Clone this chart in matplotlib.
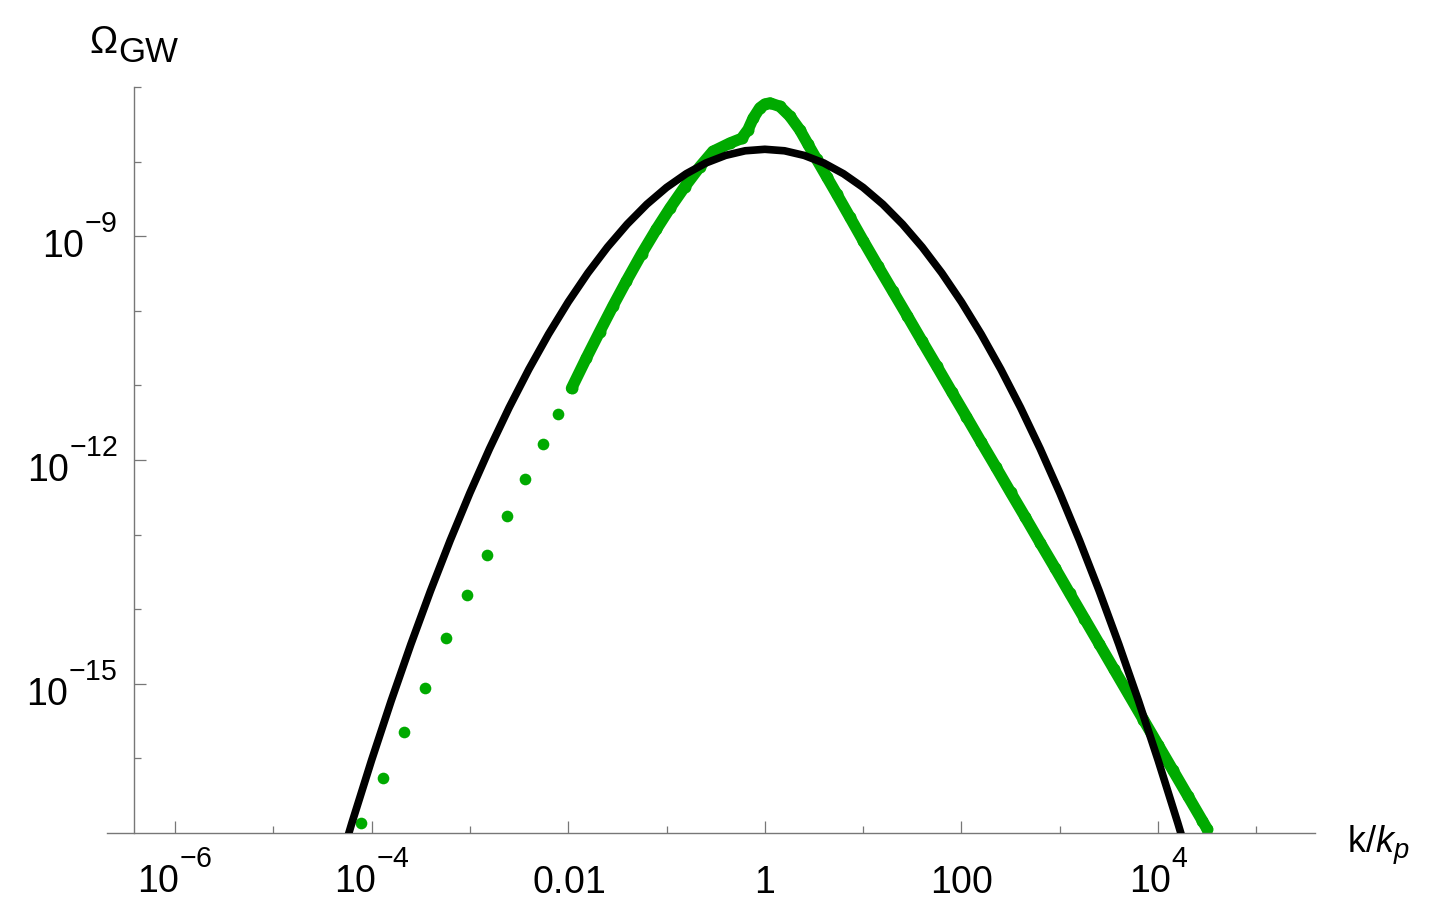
import numpy as np
import matplotlib
matplotlib.use("Agg")
import matplotlib.pyplot as plt
from matplotlib.ticker import NullFormatter
import matplotlib._mathtext as _mt

# superscripts a bit larger and higher, like the reference
_mt.SHRINK_FACTOR = 0.76
_mt.FontConstantsBase.sup1 = 1.2

plt.rcParams['font.family'] = ['Liberation Sans', 'DejaVu Sans']
plt.rcParams['mathtext.fontset'] = 'custom'
plt.rcParams['mathtext.rm'] = 'Liberation Sans'
plt.rcParams['mathtext.it'] = 'Liberation Sans:italic'
plt.rcParams['mathtext.bf'] = 'Liberation Sans:bold'

# ---------------- data (log10 values) ----------------
# black curve: log10(k/kp), log10(Omega_GW)
black_logk = [-4.4, -4.2, -4.0, -3.8, -3.6, -3.4, -3.2, -3.0, -2.8, -2.6, -2.4, -2.2,
              -2.0, -1.8, -1.6, -1.4, -1.2, -1.0, -0.8, -0.6, -0.4, -0.2, 0.0,
              0.2, 0.4, 0.6, 0.8, 1.0, 1.2, 1.4, 1.6, 1.8, 2.0, 2.2, 2.4, 2.6,
              2.8, 3.0, 3.2, 3.4, 3.6, 3.8, 4.0, 4.2, 4.4]
black_logO = [-17.747, -16.867, -16.027, -15.228, -14.471, -13.754, -13.078, -12.443,
              -11.849, -11.296, -10.784, -10.313, -9.883, -9.494, -9.146, -8.839,
              -8.572, -8.347, -8.163, -8.019, -7.917, -7.855, -7.835,
              -7.855, -7.917, -8.019, -8.163, -8.347, -8.572, -8.839, -9.146,
              -9.494, -9.883, -10.313, -10.784, -11.296, -11.849, -12.443,
              -13.078, -13.754, -14.471, -15.228, -16.027, -16.867, -17.747]

# green sparse points (low k)
green_sparse_logk = [-4.11, -3.886, -3.665, -3.452, -3.238, -3.025, -2.821, -2.625,
                     -2.434, -2.261, -2.099]
green_sparse_logO = [-16.86, -16.26, -15.65, -15.06, -14.38, -13.815, -13.27, -12.75,
                     -12.25, -11.79, -11.39]

# green dense points
green_dense_logk = [-1.966, -1.814, -1.679, -1.543, -1.407, -1.254, -1.102, -0.966,
                    -0.814, -0.661, -0.529, -0.356, -0.237, -0.170, -0.119, -0.051,
                    0.0, 0.051, 0.153, 0.254, 0.356, 0.440, 0.526, 0.628, 0.729, 0.865,
                    1.0, 1.15, 1.3, 1.45, 1.6, 1.75, 1.9, 2.05, 2.2, 2.35, 2.5, 2.65,
                    2.8, 2.95, 3.1, 3.25, 3.4, 3.55, 3.7, 3.85, 4.0, 4.15, 4.3, 4.45, 4.5]
green_dense_logO = [-11.04, -10.63, -10.279, -9.932, -9.599, -9.239, -8.905, -8.626,
                    -8.337, -8.069, -7.864, -7.753, -7.69, -7.57, -7.42, -7.28,
                    -7.23, -7.215, -7.26, -7.39, -7.575, -7.77, -7.968, -8.20, -8.43, -8.745,
                    -9.06, -9.40, -9.735, -10.07, -10.41, -10.745, -11.085, -11.42, -11.76,
                    -12.095, -12.435, -12.77, -13.11, -13.445, -13.786, -14.125, -14.464,
                    -14.803, -15.142, -15.481, -15.82, -16.159, -16.498, -16.837, -16.95]

x_major = [1e-6, 1e-4, 1e-2, 1e0, 1e2, 1e4]
x_major_labels = [r'$\mathregular{10^{-6}}$', r'$\mathregular{10^{-4}}$', r'$\mathregular{0.01}$',
                  r'$\mathregular{1}$', r'$\mathregular{100}$', r'$\mathregular{10^{4}}$']
x_minor = [1e-5, 1e-3, 1e-1, 1e1, 1e3, 1e5]
y_major = [1e-15, 1e-12, 1e-9]
y_major_labels = [r'$\mathregular{10^{-15}}$', r'$\mathregular{10^{-12}}$', r'$\mathregular{10^{-9}}$']
y_minor = [1e-16, 1e-14, 1e-13, 1e-11, 1e-10, 1e-8, 1e-7]

# ---------------- figure ----------------
W, H = 1441, 920
fig = plt.figure(figsize=(W / 100, H / 100), dpi=100)
ax = fig.add_axes([107 / W, 1 - 834 / H, (1315 - 107) / W, (834 - 88) / H])
ax.set_xscale('log')
ax.set_yscale('log')
ax.set_xlim(10 ** -6.69, 10 ** 5.595)
ax.set_ylim(1e-17, 1e-7)

green = '#00aa00'
ax.plot(np.power(10.0, green_sparse_logk), np.power(10.0, green_sparse_logO),
        linestyle='none', marker='o', ms=8.4, mec='none', mfc=green, zorder=2)
ax.plot(np.power(10.0, green_dense_logk), np.power(10.0, green_dense_logO),
        color=green, lw=8.3, solid_capstyle='round', solid_joinstyle='round',
        marker='o', ms=8.6, mec='none', mfc=green, zorder=2)
ax.plot(np.power(10.0, black_logk), np.power(10.0, black_logO),
        color='black', lw=5.5, solid_joinstyle='round', zorder=3)

axis_color = '#777777'
for s in ['top', 'right']:
    ax.spines[s].set_visible(False)
ax.spines['left'].set_position(('data', 10 ** -6.42))
ax.spines['left'].set_color(axis_color)
ax.spines['bottom'].set_color(axis_color)
ax.spines['left'].set_linewidth(1.0)
ax.spines['bottom'].set_linewidth(1.0)

ax.set_xticks(x_major, labels=x_major_labels)
ax.set_xticks(x_minor, minor=True)
ax.set_yticks(y_major, labels=y_major_labels)
ax.set_yticks(y_minor, minor=True)
ax.xaxis.set_minor_formatter(NullFormatter())
ax.yaxis.set_minor_formatter(NullFormatter())

ax.tick_params(which='major', direction='in', length=8.6, width=0.9, color=axis_color,
               labelsize=27)
ax.tick_params(which='minor', direction='in', length=4.7, width=0.9, color=axis_color)
ax.tick_params(axis='x', which='major', pad=42.5)
ax.tick_params(axis='y', which='major', pad=11.5)
for lab in ax.get_xticklabels():
    lab.set_verticalalignment('baseline')

# axis labels
fig.text(89 / W, 1 - 53 / H, '\u03a9', fontsize=27, va='baseline', ha='left')
fig.text(118 / W, 1 - 62 / H, 'GW', fontsize=25, va='baseline', ha='left')
fig.text(1347 / W, 1 - 852 / H, r'$\mathregular{k/}\mathit{k}_{\mathit{p}}$', fontsize=26,
         va='baseline', ha='left')

fig.savefig('out.png', dpi=100)
